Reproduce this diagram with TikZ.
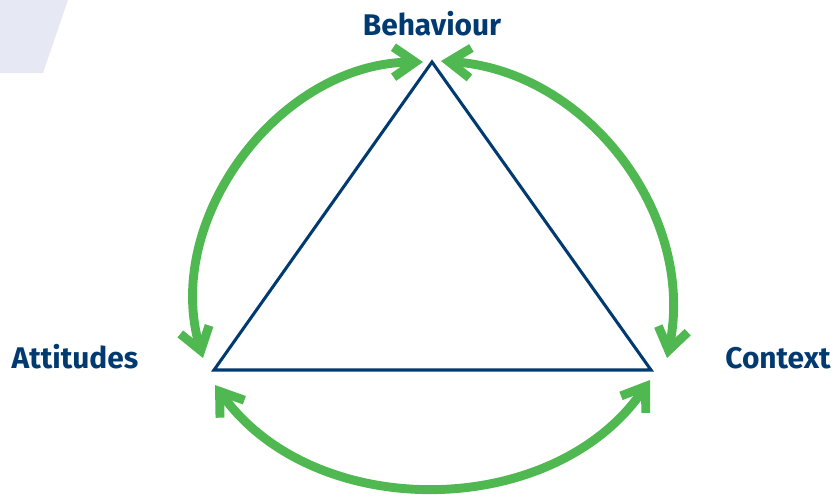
\documentclass[tikz,border=0pt]{standalone}
\usepackage{fontspec}
\setmainfont{Fira Sans}
\usetikzlibrary{arrows.meta,positioning}
\definecolor{navy}{RGB}{0,58,112}
\definecolor{leaf}{RGB}{80,184,80}
\definecolor{haze}{RGB}{230,233,243}
\tikzset{
  tri/.style={draw=navy,line width=2.6pt,line join=miter},
  cyc/.style={draw=leaf,line width=7.6pt,
    {Straight Barb[length=6.5mm,width=9mm]}-{Straight Barb[length=6.5mm,width=9mm]}},
  lbl/.style={font=\fontsize{25.5}{29}\selectfont\bfseries,text=navy,inner sep=0pt},
}
\begin{document}
\begin{tikzpicture}[x=0.03cm,y=-0.03cm]
  \useasboundingbox (0,0) rectangle (835,498);
  % corner band
  \fill[haze] (0,0) -- (68,0) -- (43,73) -- (0,73) -- cycle;
  % triangle corners
  \coordinate (top) at (432,62);
  \coordinate (lft) at (214,370);
  \coordinate (rgt) at (651,370);
  \draw[tri] (top) -- (lft) -- (rgt) -- cycle;
  % arrow ends
  \coordinate (tl) at (423,62);
  \coordinate (tr) at (441,61);
  \coordinate (lt) at (203,358);
  \coordinate (lb) at (215,385);
  \coordinate (rt) at (667,358);
  \coordinate (rb) at (650,380);
  \path (tl) edge[cyc,bend right=53] (lt)
        (tr) edge[cyc,bend left=49] (rt)
        (lb) edge[cyc,bend right=55] (rb);
  % labels
  \node[lbl,anchor=base] (beh) at (432,35) {Behaviour};
  \node[lbl,anchor=base] (att) at (75,368) {Attitudes};
  \node[lbl,anchor=base] (con) at (778,368) {Context};
\end{tikzpicture}
\end{document}
